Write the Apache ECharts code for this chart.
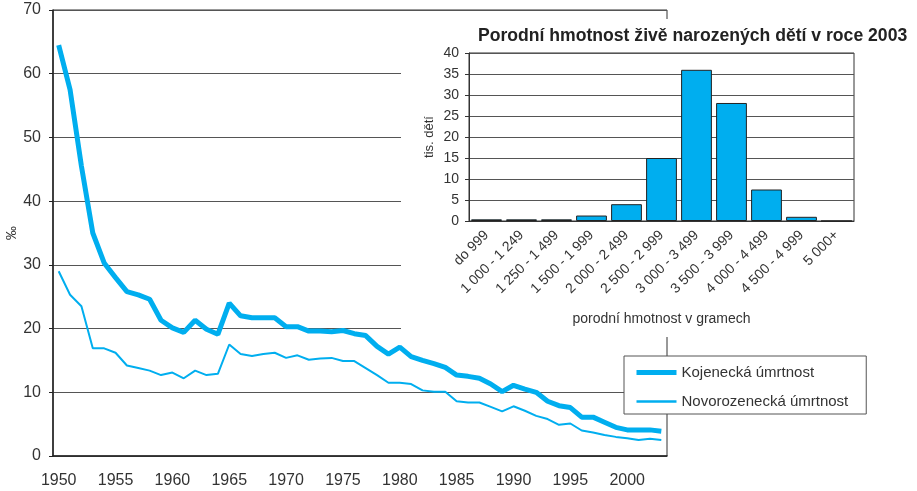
<!DOCTYPE html>
<html>
<head>
<meta charset="utf-8">
<script src="https://cdn.jsdelivr.net/npm/echarts@6/dist/echarts.min.js"></script>
<style>
  html, body { margin: 0; padding: 0; background: #fff; }
  #chart { width: 917px; height: 491px; }
</style>
</head>
<body>
<div id="chart"></div>
<script>
// roky hlavního grafu
const years = ['1950','1951','1952','1953','1954','1955','1956','1957','1958','1959',
  '1960','1961','1962','1963','1964','1965','1966','1967','1968','1969',
  '1970','1971','1972','1973','1974','1975','1976','1977','1978','1979',
  '1980','1981','1982','1983','1984','1985','1986','1987','1988','1989',
  '1990','1991','1992','1993','1994','1995','1996','1997','1998','1999',
  '2000','2001','2002','2003']

// kojenecká úmrtnost (‰)
const infant = [64.5, 57.5, 45.5, 35.0, 30.3, 28.0, 25.8, 25.3, 24.6, 21.3,
  20.1, 19.4, 21.3, 19.9, 19.1, 24.0, 22.0, 21.7, 21.7, 21.7,
  20.3, 20.3, 19.6, 19.6, 19.5, 19.7, 19.2, 18.9, 17.2, 16.0,
  17.1, 15.6, 15.0, 14.5, 13.9, 12.7, 12.5, 12.2, 11.3, 10.1,
  11.1, 10.5, 10.0, 8.6, 7.9, 7.6, 6.1, 6.1, 5.3, 4.5,
  4.1, 4.1, 4.1, 3.9]

// novorozenecká úmrtnost (‰)
const neonatal = [29.0, 25.3, 23.5, 16.9, 16.9, 16.2, 14.2, 13.8, 13.4, 12.7,
  13.1, 12.2, 13.4, 12.7, 12.9, 17.5, 16.0, 15.7, 16.0, 16.2,
  15.4, 15.8, 15.1, 15.3, 15.4, 14.9, 14.9, 13.8, 12.7, 11.5,
  11.5, 11.3, 10.3, 10.1, 10.1, 8.6, 8.4, 8.4, 7.7, 7.0,
  7.8, 7.1, 6.3, 5.8, 4.9, 5.1, 4.0, 3.7, 3.3, 3.0,
  2.8, 2.5, 2.7, 2.5]

// vložený graf: porodní hmotnost 2003
const weightCats = ['do 999', '1 000 - 1 249', '1 250 - 1 499', '1 500 - 1 999', '2 000 - 2 499',
  '2 500 - 2 999', '3 000 - 3 499', '3 500 - 3 999', '4 000 - 4 499', '4 500 - 4 999', '5 000+']
const weightVals = [0.4, 0.4, 0.4, 1.3, 4.0, 15.0, 36.0, 28.1, 7.5, 1.0, 0]

const mainTicks = { min: 0, max: 70, interval: 10 }
const insetTicks = { min: 0, max: 40, interval: 5 }

const FONT = '"Liberation Sans", Arial, sans-serif'
const BLUE = '#00aeef'
const TXT = '#333'

const chart = echarts.init(document.getElementById('chart'))

chart.setOption({
  animation: false,
  textStyle: { fontFamily: FONT },
  title: {
    text: 'Porodní hmotnost živě narozených dětí v roce 2003',
    left: 473,
    top: 22,
    z: 8,
    textStyle: { fontFamily: FONT, fontSize: 17.6, fontWeight: 'bold', color: '#222' }
  },
  legend: {
    orient: 'vertical',
    left: 624,
    top: 356,
    padding: [9, 18, 5, 10],
    itemWidth: 40,
    itemHeight: 14,
    itemGap: 14,
    backgroundColor: '#fff',
    borderColor: '#555',
    borderWidth: 1,
    itemStyle: { opacity: 0 },
    data: [
      { name: 'Kojenecká úmrtnost', lineStyle: { color: BLUE, width: 5 } },
      { name: 'Novorozenecká úmrtnost', lineStyle: { color: BLUE, width: 2.5 } }
    ],
    textStyle: { fontFamily: FONT, fontSize: 15, color: TXT }
  },
  graphic: [
    {
      // bílé pozadí pod vloženým grafem
      type: 'rect',
      z: 1,
      shape: { x: 401, y: 19, width: 520, height: 318 },
      style: { fill: '#fff' }
    }
  ],
  grid: [
    { left: 53, top: 10, width: 614, height: 446, outerBoundsMode: 'none', containLabel: false,
      show: true, borderColor: '#333', borderWidth: 1, z: 0 },
    { left: 469, top: 53, width: 385, height: 168, outerBoundsMode: 'none', containLabel: false,
      show: true, borderColor: '#333', borderWidth: 1, z: 5 }
  ],
  xAxis: [
    {
      gridIndex: 0,
      type: 'category',
      data: years,
      z: 0,
      axisLine: { lineStyle: { color: '#222', width: 1.5 } },
      axisTick: { interval: 0, length: 5, lineStyle: { color: '#222' } },
      axisLabel: { interval: 4, margin: 17, fontSize: 16, color: TXT, fontFamily: FONT }
    },
    {
      gridIndex: 1,
      type: 'category',
      data: weightCats,
      z: 5,
      axisLine: { lineStyle: { color: '#333' } },
      axisTick: { length: 5, lineStyle: { color: '#333' } },
      axisLabel: { interval: 0, rotate: 45, margin: 12, fontSize: 14, color: TXT, fontFamily: FONT },
      name: 'porodní hmotnost v gramech',
      nameLocation: 'middle',
      nameGap: 91,
      nameMoveOverlap: false,
      nameTextStyle: { fontSize: 14, color: TXT, fontFamily: FONT }
    }
  ],
  yAxis: [
    {
      gridIndex: 0,
      type: 'value',
      min: mainTicks.min,
      max: mainTicks.max,
      interval: mainTicks.interval,
      z: 0,
      axisLine: { show: true, lineStyle: { color: '#222', width: 1.5 } },
      axisTick: { show: true, length: 4, lineStyle: { color: '#222' } },
      axisLabel: { margin: 12, fontSize: 16, color: TXT, fontFamily: FONT },
      splitLine: { lineStyle: { color: '#555', width: 1 } },
      name: '‰',
      nameLocation: 'middle',
      nameRotate: 90,
      nameGap: 34,
      nameMoveOverlap: false,
      nameTextStyle: { fontSize: 14, color: TXT, fontFamily: FONT }
    },
    {
      gridIndex: 1,
      type: 'value',
      min: insetTicks.min,
      max: insetTicks.max,
      interval: insetTicks.interval,
      z: 5,
      axisLine: { show: true, lineStyle: { color: '#333' } },
      axisTick: { show: true, length: 4, lineStyle: { color: '#333' } },
      axisLabel: { margin: 10, fontSize: 14, color: TXT, fontFamily: FONT },
      splitLine: { lineStyle: { color: '#555', width: 1 } },
      name: 'tis. dětí',
      nameLocation: 'middle',
      nameRotate: 90,
      nameGap: 33,
      nameMoveOverlap: false,
      nameTextStyle: { fontSize: 13, color: TXT, fontFamily: FONT }
    }
  ],
  series: [
    {
      name: 'Kojenecká úmrtnost',
      type: 'line',
      xAxisIndex: 0,
      yAxisIndex: 0,
      data: infant,
      showSymbol: false,
      symbol: 'none',
      z: 3,
      lineStyle: { color: BLUE, width: 5 },
      itemStyle: { color: BLUE }
    },
    {
      name: 'Novorozenecká úmrtnost',
      type: 'line',
      xAxisIndex: 0,
      yAxisIndex: 0,
      data: neonatal,
      showSymbol: false,
      symbol: 'none',
      z: 3,
      lineStyle: { color: BLUE, width: 2 },
      itemStyle: { color: BLUE }
    },
    {
      name: 'porodní hmotnost',
      type: 'bar',
      xAxisIndex: 1,
      yAxisIndex: 1,
      data: weightVals,
      barCategoryGap: '12%',
      z: 6,
      itemStyle: { color: BLUE, borderColor: '#222', borderWidth: 1 }
    }
  ]
})
</script>
</body>
</html>
